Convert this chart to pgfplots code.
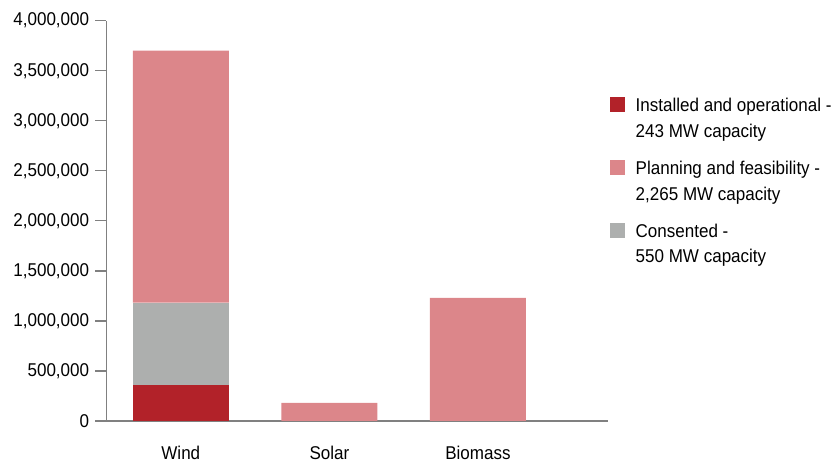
\documentclass[border=0pt]{standalone}
\usepackage{fontspec}
\setmainfont{Liberation Sans}[FakeStretch=0.92]
\usepackage{pgfplots}
\pgfplotsset{compat=1.18}
\definecolor{instred}{RGB}{178,34,41}
\definecolor{planpink}{RGB}{220,134,138}
\definecolor{consgray}{RGB}{173,175,174}
\definecolor{axisgray}{RGB}{128,128,128}
\begin{document}
\fontsize{18.5}{25.5}\selectfont
\begin{tikzpicture}
\begin{axis}[
  scale only axis,
  width=501.5pt, height=400.3pt,
  ybar stacked,
  bar width=96pt,
  xmin=-0.5, xmax=2.875,
  ymin=0, ymax=4000000,
  ytick={0,500000,1000000,1500000,2000000,2500000,3000000,3500000,4000000},
  scaled y ticks=false,
  yticklabel style={/pgf/number format/fixed, /pgf/number format/1000 sep={,}, /pgf/number format/assume math mode=true, font=\fontsize{18.5}{22}\selectfont},
  xtick={0,1,2},
  xticklabels={Wind,Solar,Biomass},
  xticklabel style={font=\fontsize{18.5}{22}\selectfont, yshift=-8pt},
  axis x line*=bottom,
  axis y line*=left,
  axis line style={draw=axisgray, line width=1.3pt, -},
  tick align=outside,
  major tick length=11pt,
  ytick style={draw=axisgray, line width=1.3pt},
  xtick style={draw=none},
  legend image code/.code={\fill[#1] (0pt,25pt) rectangle (15pt,40pt);},
  legend cell align=left,
  legend style={draw=none, fill=none, inner sep=0pt, outer sep=0pt,
    at={(1.004,0.8086)}, anchor=north west,
    column sep=10.7pt, row sep=20pt,
    nodes={inner sep=0pt, align=left, anchor=base west, font=\fontsize{18.5}{25.5}\selectfont}},
]
\addlegendimage{fill=instred, draw=none}
\addlegendimage{fill=planpink, draw=none}
\addlegendimage{fill=consgray, draw=none}
\addplot[fill=instred, draw=none] coordinates {(0,360000) (1,0) (2,0)};
\addplot[fill=consgray, draw=none] coordinates {(0,823000) (1,0) (2,0)};
\addplot[fill=planpink, draw=none] coordinates {(0,2517000) (1,180000) (2,1230000)};
\legend{{Installed and operational -\\243 MW capacity}, {Planning and feasibility -\\2,265 MW capacity}, {Consented -\\550 MW capacity}}
\end{axis}
\pgfresetboundingbox
\path[use as bounding box] (-106.5pt,-41pt) rectangle (731.5pt,421pt);
\end{tikzpicture}
\end{document}
